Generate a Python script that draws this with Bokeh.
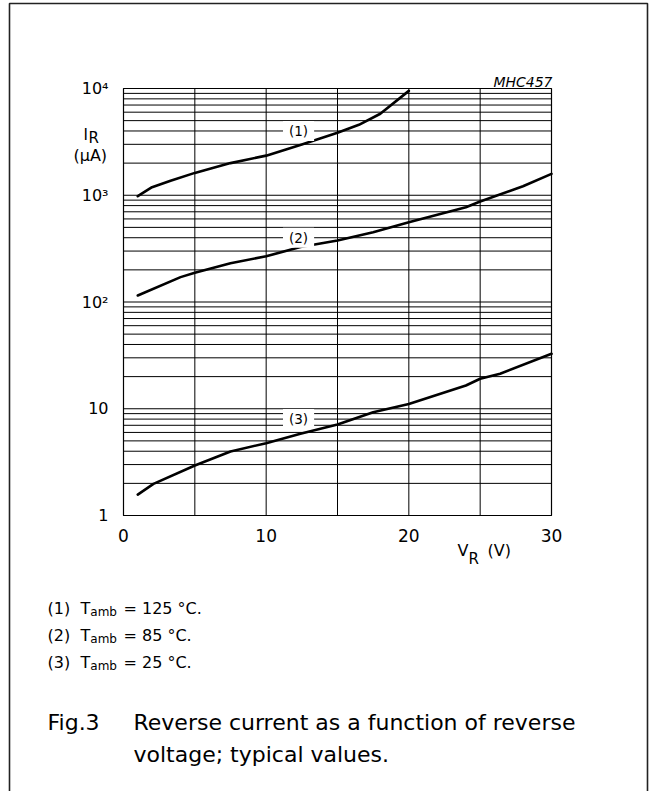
from bokeh.plotting import figure
from bokeh.models import Range1d, FixedTicker, Label, BoxAnnotation
from bokeh.embed import file_html
from bokeh.resources import INLINE

# ---- data ----
v1 = [1, 2, 3.3, 5, 7.5, 10, 12.5, 15, 16.5, 18, 20]
i1 = [980, 1190, 1370, 1620, 2000, 2350, 2990, 3850, 4570, 5800, 9500]

v2 = [1, 4, 5, 7.5, 10, 12.4, 15, 17.5, 20, 24, 25, 28, 30]
i2 = [115, 171, 188, 231, 268, 327, 377, 451, 559, 773, 874, 1215, 1585]

v3 = [1, 2.1, 5, 7.5, 10, 12.4, 15, 17.5, 20, 24, 25, 26.4, 30]
i3 = [1.57, 1.98, 2.94, 3.98, 4.76, 5.82, 7.11, 9.29, 11.1, 16.5, 19.1, 21.3, 32.7]

x_min, x_max = 0, 30
y_min, y_max = 1, 10000
x_ticks = [0, 10, 20, 30]
x_tick_labels = ["0", "10", "20", "30"]
x_grid = [5, 10, 15, 20, 25]
y_ticks = [1, 10, 100, 1000, 10000]
y_tick_labels = ["1", "10", "10²", "10³", "10⁴"]
y_grid = [m * 10 ** k for k in range(4) for m in range(2, 10)] + [10, 100, 1000]

curve_names = ["(1)", "(2)", "(3)"]
curve_label_v = [12.27, 12.27, 12.27]
curve_label_i = [4000, 400, 8]
temps = ["125", "85", "25"]

FONT = "DejaVu Sans"

# canvas and plot-area placement (page pixels)
W, H = 655, 791
FX0, FX1, FY0, FY1 = 123, 551, 88, 515
DEC = (FY1 - FY0) / 4.0  # pixels per decade

# the frame fills the whole canvas; data ranges are chosen so that the
# plot area (0..30 V, 1..1e4 uA) lands where it is in the reference
x_range = Range1d(x_min - FX0 / (FX1 - FX0) * (x_max - x_min),
                  x_max + (W - FX1) / (FX1 - FX0) * (x_max - x_min))
y_range = Range1d(10 ** (-(H - FY1) / DEC), 10 ** (4 + FY0 / DEC))


def sx(px):
    return px


def sy(py):
    return H - py


p = figure(width=W, height=H, output_backend="svg", toolbar_location=None,
           x_range=x_range, y_range=y_range, y_axis_type="log",
           min_border=0, min_border_left=0, min_border_right=0,
           min_border_top=0, min_border_bottom=0)
p.background_fill_color = "white"
p.border_fill_color = "white"
p.outline_line_color = None
p.xgrid.visible = False
p.ygrid.visible = False

# grid lines of the plot area
p.segment(x0=x_grid, y0=[y_min] * len(x_grid), x1=x_grid, y1=[y_max] * len(x_grid),
          line_color="black", line_width=1)
p.segment(x0=[x_min] * len(y_grid), y0=y_grid, x1=[x_max] * len(y_grid), y1=y_grid,
          line_color="black", line_width=1)

# plot-area border
p.add_layout(BoxAnnotation(left=x_min, right=x_max, bottom=y_min, top=y_max,
                           fill_alpha=0, line_color="black", line_alpha=1.0,
                           line_width=1.2))

# axes (library axes pinned to the plot-area edges)
for ax in (p.xaxis, p.yaxis):
    ax.axis_line_color = "black"
    ax.major_tick_line_color = None
    ax.minor_tick_line_color = None
    ax.major_label_text_font = FONT
    ax.major_label_text_color = "black"

p.xaxis.fixed_location = y_min
p.xaxis.bounds = (x_min, x_max)
p.xaxis.ticker = FixedTicker(ticks=x_ticks)
p.xaxis.major_label_overrides = dict(zip(x_ticks, x_tick_labels))
p.xaxis.major_label_text_font_size = "17px"
p.xaxis.major_label_standoff = 7

p.yaxis.fixed_location = x_min
p.yaxis.bounds = (y_min, y_max)
p.yaxis.ticker = FixedTicker(ticks=y_ticks)
p.yaxis.major_label_overrides = dict(zip(y_ticks, y_tick_labels))
p.yaxis.major_label_text_font_size = "16px"
p.yaxis.major_label_standoff = 9

# curves
for v, i in ((v1, i1), (v2, i2), (v3, i3)):
    p.line(v, i, line_width=2.6, line_color="black", line_join="round", line_cap="round")

# curve labels
for name, cv, ci in zip(curve_names, curve_label_v, curve_label_i):
    p.add_layout(Label(x=cv, y=ci, text=name, text_align="center", text_baseline="middle",
                       text_font=FONT, text_font_size="13.5px", text_color="black",
                       background_fill_color="white",
                       padding=dict(left=6, right=6, top=2, bottom=2)))


def lab(px, py, text, size, align="left", style="normal", baseline="alphabetic"):
    p.add_layout(Label(x=sx(px), y=sy(py), x_units="screen", y_units="screen",
                       text=text, text_align=align,
                       text_baseline=baseline, text_font=FONT, text_font_size=size,
                       text_font_style=style, text_color="black"))


# axis titles
lab(83, 134, "I", "15px")
lab(88, 137.5, "R", "15px")
lab(73, 155, "(μA)", "16px")
lab(457, 550, "V", "16px")
lab(468, 558, "R", "15px")
lab(487, 550, "(V)", "16px")
lab(552, 81, "MHC457", "14px", align="right", style="italic")

# legend rows
for k, t in enumerate(temps):
    base = 608 + 27 * k
    lab(47, base, curve_names[k], "16px")
    lab(80, base, "T", "16px")
    lab(89.8, base + 3, "amb", "12px")
    lab(123, base, "= " + t + " °C.", "16px")

# caption
lab(47, 722, "Fig.3", "22px")
lab(133, 722, "Reverse current as a function of reverse", "22px")
lab(133, 754, "voltage; typical values.", "22px")

# outer frame of the figure
p.add_layout(BoxAnnotation(left=sx(9), right=sx(647), top=sy(3), bottom=sy(830),
                           left_units="screen", right_units="screen",
                           top_units="screen", bottom_units="screen",
                           fill_alpha=0, line_color="#222222", line_alpha=1.0,
                           line_width=1.6))

open("out.html", "w").write(file_html(p, INLINE))
